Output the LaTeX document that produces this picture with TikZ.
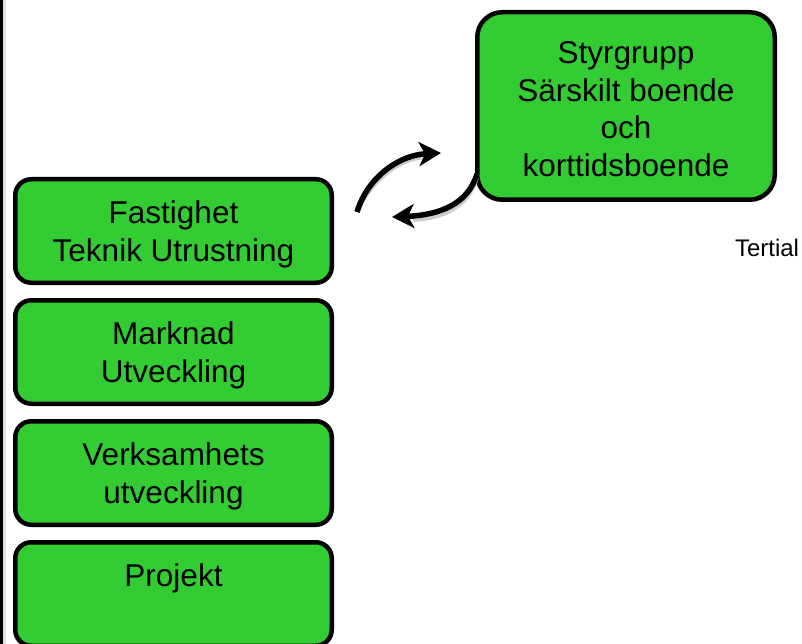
\documentclass[tikz,border=0pt]{standalone}
\usepackage{fontspec}
\setmainfont{Liberation Sans}
\usetikzlibrary{positioning}
\usetikzlibrary{arrows.meta}

\definecolor{boxgreen}{RGB}{51,204,51}

\tikzset{
  groupbox/.style={draw=black,fill=boxgreen,line width=4.5pt,rounded corners=16pt,
    align=center,font=\fontsize{31.5}{37.5}\selectfont,text depth=0pt,
    minimum width=316.5pt,minimum height=103.5pt,inner sep=0pt},
  swaparrow/.style={line width=5.5pt,-{Stealth[length=22pt,width=24pt,inset=6pt]}},
  swapshadow/.style={line width=5.5pt,draw=black!20,shift={(1.5,3)}}
}

\begin{document}
\begin{tikzpicture}[x=1pt,y=-1pt]
\useasboundingbox (0,0) rectangle (802,644);

% Left edge
\fill[black] (0,0) rectangle (3,644);
\fill[black!12] (3,0) rectangle (6,644);

% Steering group
\node[groupbox,rounded corners=25pt,minimum width=297.5pt,minimum height=187.5pt,
  text height=141pt] (styr) at (626,106) {Styrgrupp\\Särskilt boende\\och\\korttidsboende};

% Groups
\node[groupbox] (fast) at (173.5,231) {Fastighet\\Teknik Utrustning};
\node[groupbox,below=13pt of fast] (mark) {Marknad\\Utveckling};
\node[groupbox,below=13pt of mark] (verk) {Verksamhets\\utveckling};
\node[groupbox,below=13pt of verk] (proj) {Projekt\\\strut};

% Tertial
\node[font=\fontsize{24}{28}\selectfont] (tert) at (767,248) {Tertial};

% Arrows
\coordinate (upstart) at (357,212);
\coordinate (upend) at (441,153);
\coordinate (downstart) at (477,174);
\coordinate (downend) at (392,217);
\draw[swapshadow] (upstart) .. controls (368,176) and (400,155) .. (420,154);
\draw[swapshadow] (downstart) .. controls (468,204) and (440,215) .. (412,216);
\draw[swaparrow] (upstart) .. controls (368,176) and (400,155) .. (upend);
\draw[swaparrow] (downstart) .. controls (468,204) and (440,215) .. (downend);

\end{tikzpicture}
\end{document}
